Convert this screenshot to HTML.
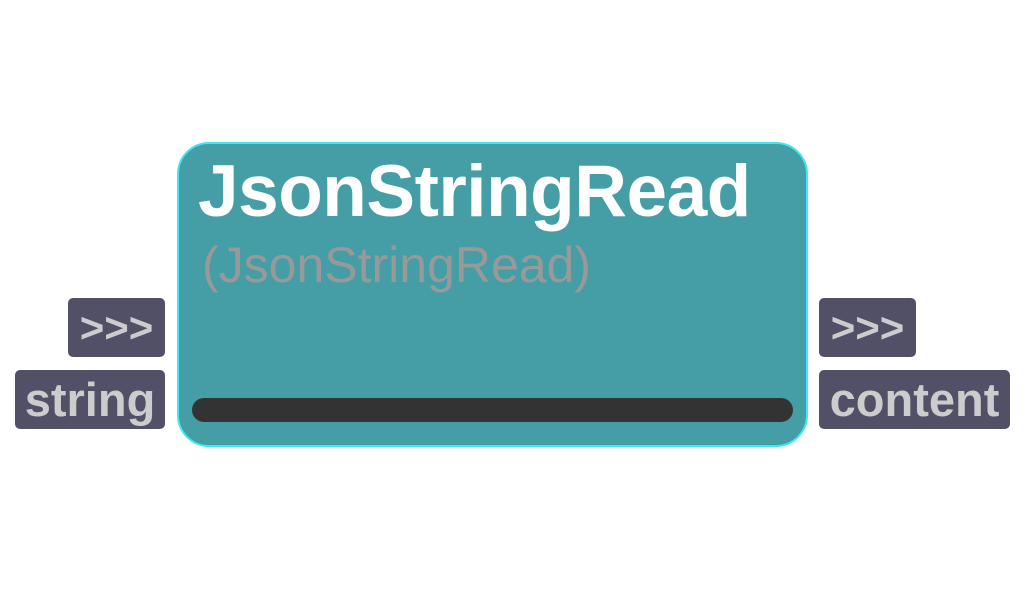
<!DOCTYPE html>
<html><head><style>
html,body{margin:0;padding:0;background:#fff;width:1030px;height:594px;overflow:hidden;font-family:"Liberation Sans",sans-serif;}
.box{position:absolute;left:177px;top:142px;width:627px;height:301px;background:#459da5;border:2px solid #3ee8f4;border-radius:32px;}
.t{position:absolute;left:198px;top:150px;font-size:73px;font-weight:bold;color:#fff;white-space:nowrap;letter-spacing:-0.5px;line-height:84px}
.s{position:absolute;left:202px;top:236px;font-size:50px;color:#999;white-space:nowrap;line-height:58px}
.bar{position:absolute;left:192px;top:398px;width:601px;height:24px;background:#333;border-radius:12px}
.b{position:absolute;background:#515066;border-radius:5px;color:#ccc;font-weight:bold;font-size:47px;line-height:59px;height:59px;text-align:center;white-space:nowrap}
.a{font-size:42px}
</style></head><body>
<div class="box"></div>
<div class="t">JsonStringRead</div>
<div class="s">(JsonStringRead)</div>
<div class="bar"></div>
<div class="b a" style="left:68px;top:298px;width:97px">&gt;&gt;&gt;</div>
<div class="b" style="left:15px;top:370px;width:150px">string</div>
<div class="b a" style="left:819px;top:298px;width:97px">&gt;&gt;&gt;</div>
<div class="b" style="left:819px;top:370px;width:191px">content</div>
</body></html>
